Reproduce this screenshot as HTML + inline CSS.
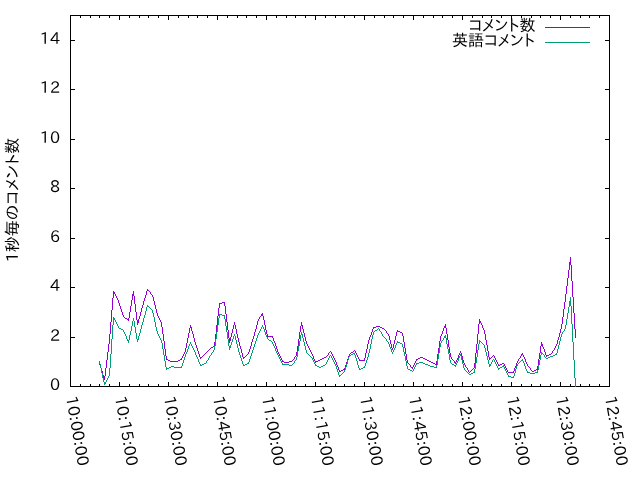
<!DOCTYPE html>
<html><head><meta charset="utf-8"><style>
html,body{margin:0;padding:0;background:#fff;width:640px;height:480px;overflow:hidden}
svg{display:block;will-change:transform}
text{font-family:"IPAPGothic","Liberation Sans","Noto Sans CJK JP",sans-serif;font-size:16px;fill:#000}
</style></head><body>
<svg width="640" height="480" viewBox="0 0 640 480">
<rect width="640" height="480" fill="#fff"/>
<path d="M70.5,15.5H609.5V386.5H70.5Z" fill="none" stroke="#000" stroke-width="1"/>
<path d="M70,386.5h5M610,386.5h-5M70,337.5h5M610,337.5h-5M70,287.5h5M610,287.5h-5M70,238.5h5M610,238.5h-5M70,188.5h5M610,188.5h-5M70,139.5h5M610,139.5h-5M70,89.5h5M610,89.5h-5M70,40.5h5M610,40.5h-5M70.5,387v-5M70.5,15v5M80.5,387v-3M80.5,15v3M90.5,387v-3M90.5,15v3M99.5,387v-3M99.5,15v3M109.5,387v-3M109.5,15v3M119.5,387v-5M119.5,15v5M129.5,387v-3M129.5,15v3M139.5,387v-3M139.5,15v3M148.5,387v-3M148.5,15v3M158.5,387v-3M158.5,15v3M168.5,387v-5M168.5,15v5M178.5,387v-3M178.5,15v3M188.5,387v-3M188.5,15v3M197.5,387v-3M197.5,15v3M207.5,387v-3M207.5,15v3M217.5,387v-5M217.5,15v5M227.5,387v-3M227.5,15v3M237.5,387v-3M237.5,15v3M246.5,387v-3M246.5,15v3M256.5,387v-3M256.5,15v3M266.5,387v-5M266.5,15v5M276.5,387v-3M276.5,15v3M286.5,387v-3M286.5,15v3M295.5,387v-3M295.5,15v3M305.5,387v-3M305.5,15v3M315.5,387v-5M315.5,15v5M325.5,387v-3M325.5,15v3M335.5,387v-3M335.5,15v3M344.5,387v-3M344.5,15v3M354.5,387v-3M354.5,15v3M364.5,387v-5M364.5,15v5M374.5,387v-3M374.5,15v3M384.5,387v-3M384.5,15v3M393.5,387v-3M393.5,15v3M403.5,387v-3M403.5,15v3M413.5,387v-5M413.5,15v5M423.5,387v-3M423.5,15v3M433.5,387v-3M433.5,15v3M442.5,387v-3M442.5,15v3M452.5,387v-3M452.5,15v3M462.5,387v-5M462.5,15v5M472.5,387v-3M472.5,15v3M482.5,387v-3M482.5,15v3M491.5,387v-3M491.5,15v3M501.5,387v-3M501.5,15v3M511.5,387v-5M511.5,15v5M521.5,387v-3M521.5,15v3M531.5,387v-3M531.5,15v3M540.5,387v-3M540.5,15v3M550.5,387v-3M550.5,15v3M560.5,387v-5M560.5,15v5M570.5,387v-3M570.5,15v3M580.5,387v-3M580.5,15v3M589.5,387v-3M589.5,15v3M599.5,387v-3M599.5,15v3M609.5,387v-5M609.5,15v5" fill="none" stroke="#000" stroke-width="1"/>
<g>
<text x="60" y="390.0" text-anchor="end">0</text><text x="60" y="341.0" text-anchor="end">2</text><text x="60" y="291.0" text-anchor="end">4</text><text x="60" y="242.0" text-anchor="end">6</text><text x="60" y="192.0" text-anchor="end">8</text><text x="60" y="143.0" text-anchor="end">10</text><text x="60" y="93.0" text-anchor="end">12</text><text x="60" y="44.0" text-anchor="end">14</text>
</g>
<g>
<text transform="translate(65.8,397) rotate(80)">10:00:00</text><text transform="translate(114.8,397) rotate(80)">10:15:00</text><text transform="translate(163.8,397) rotate(80)">10:30:00</text><text transform="translate(212.8,397) rotate(80)">10:45:00</text><text transform="translate(261.8,397) rotate(80)">11:00:00</text><text transform="translate(310.8,397) rotate(80)">11:15:00</text><text transform="translate(359.8,397) rotate(80)">11:30:00</text><text transform="translate(408.8,397) rotate(80)">11:45:00</text><text transform="translate(457.8,397) rotate(80)">12:00:00</text><text transform="translate(506.8,397) rotate(80)">12:15:00</text><text transform="translate(555.8,397) rotate(80)">12:30:00</text><text transform="translate(604.8,397) rotate(80)">12:45:00</text>
</g>
<text transform="translate(18,200) rotate(-90)" text-anchor="middle">1秒毎のコメント数</text>
<text x="535.5" y="31" text-anchor="end">コメント数</text>
<path d="M545,27.5H590" stroke="#9400d3" stroke-width="1"/>
<text x="535" y="46" text-anchor="end">英語コメント</text>
<path d="M545,42.5H590" stroke="#009e73" stroke-width="1"/>
<path d="M570 257h1v1h-1zM570 258h1v1h-1zM570 259h1v1h-1zM570 260h1v1h-1zM570 261h1v1h-1zM569 262h2v1h-2zM569 263h2v1h-2zM569 264h2v1h-2zM569 265h1v1h-1zM571 265h1v1h-1zM569 266h1v1h-1zM571 266h1v1h-1zM569 267h1v1h-1zM571 267h1v1h-1zM569 268h1v1h-1zM571 268h1v1h-1zM569 269h1v1h-1zM571 269h1v1h-1zM568 270h1v1h-1zM571 270h1v1h-1zM568 271h1v1h-1zM571 271h1v1h-1zM568 272h1v1h-1zM571 272h1v1h-1zM568 273h1v1h-1zM571 273h1v1h-1zM568 274h1v1h-1zM571 274h1v1h-1zM568 275h1v1h-1zM571 275h1v1h-1zM568 276h1v1h-1zM571 276h1v1h-1zM568 277h1v1h-1zM571 277h1v1h-1zM567 278h1v1h-1zM571 278h1v1h-1zM567 279h1v1h-1zM571 279h1v1h-1zM567 280h1v1h-1zM571 280h1v1h-1zM567 281h1v1h-1zM572 281h1v1h-1zM567 282h1v1h-1zM572 282h1v1h-1zM567 283h1v1h-1zM572 283h1v1h-1zM567 284h1v1h-1zM572 284h1v1h-1zM567 285h1v1h-1zM572 285h1v1h-1zM566 286h1v1h-1zM572 286h1v1h-1zM566 287h1v1h-1zM572 287h1v1h-1zM566 288h1v1h-1zM572 288h1v1h-1zM147 289h1v1h-1zM566 289h1v1h-1zM572 289h1v1h-1zM147 290h2v1h-2zM566 290h1v1h-1zM572 290h1v1h-1zM113 291h1v1h-1zM133 291h1v1h-1zM146 291h1v1h-1zM149 291h1v1h-1zM566 291h1v1h-1zM572 291h1v1h-1zM113 292h2v1h-2zM133 292h1v1h-1zM146 292h1v1h-1zM150 292h1v1h-1zM566 292h1v1h-1zM572 292h1v1h-1zM113 293h2v1h-2zM133 293h1v1h-1zM146 293h1v1h-1zM150 293h1v1h-1zM566 293h1v1h-1zM572 293h1v1h-1zM113 294h1v1h-1zM115 294h1v1h-1zM132 294h2v1h-2zM146 294h1v1h-1zM151 294h1v1h-1zM565 294h1v1h-1zM572 294h1v1h-1zM113 295h1v1h-1zM115 295h1v1h-1zM132 295h2v1h-2zM145 295h1v1h-1zM152 295h1v1h-1zM565 295h1v1h-1zM572 295h1v1h-1zM113 296h1v1h-1zM116 296h1v1h-1zM132 296h1v1h-1zM134 296h1v1h-1zM145 296h1v1h-1zM152 296h1v1h-1zM565 296h1v1h-1zM572 296h1v1h-1zM113 297h1v1h-1zM116 297h1v1h-1zM132 297h1v1h-1zM134 297h1v1h-1zM145 297h1v1h-1zM153 297h1v1h-1zM565 297h1v1h-1zM573 297h1v1h-1zM112 298h1v1h-1zM117 298h1v1h-1zM132 298h1v1h-1zM134 298h1v1h-1zM144 298h1v1h-1zM153 298h1v1h-1zM565 298h1v1h-1zM573 298h1v1h-1zM112 299h1v1h-1zM117 299h1v1h-1zM132 299h1v1h-1zM134 299h1v1h-1zM144 299h1v1h-1zM153 299h1v1h-1zM565 299h1v1h-1zM573 299h1v1h-1zM112 300h1v1h-1zM118 300h1v1h-1zM131 300h1v1h-1zM134 300h1v1h-1zM144 300h1v1h-1zM153 300h1v1h-1zM565 300h1v1h-1zM573 300h1v1h-1zM112 301h1v1h-1zM118 301h1v1h-1zM131 301h1v1h-1zM134 301h1v1h-1zM143 301h1v1h-1zM154 301h1v1h-1zM565 301h1v1h-1zM573 301h1v1h-1zM112 302h1v1h-1zM118 302h1v1h-1zM131 302h1v1h-1zM134 302h1v1h-1zM143 302h1v1h-1zM154 302h1v1h-1zM222 302h3v1h-3zM564 302h1v1h-1zM573 302h1v1h-1zM112 303h1v1h-1zM119 303h1v1h-1zM131 303h1v1h-1zM134 303h1v1h-1zM143 303h1v1h-1zM154 303h1v1h-1zM219 303h3v1h-3zM224 303h1v1h-1zM564 303h1v1h-1zM573 303h1v1h-1zM112 304h1v1h-1zM119 304h1v1h-1zM131 304h1v1h-1zM135 304h1v1h-1zM143 304h1v1h-1zM154 304h1v1h-1zM219 304h1v1h-1zM224 304h1v1h-1zM564 304h1v1h-1zM573 304h1v1h-1zM112 305h1v1h-1zM119 305h1v1h-1zM131 305h1v1h-1zM135 305h1v1h-1zM142 305h1v1h-1zM155 305h1v1h-1zM219 305h1v1h-1zM224 305h1v1h-1zM564 305h1v1h-1zM573 305h1v1h-1zM112 306h1v1h-1zM120 306h1v1h-1zM130 306h1v1h-1zM135 306h1v1h-1zM142 306h1v1h-1zM155 306h1v1h-1zM219 306h1v1h-1zM225 306h1v1h-1zM564 306h1v1h-1zM573 306h1v1h-1zM112 307h1v1h-1zM120 307h1v1h-1zM130 307h1v1h-1zM135 307h1v1h-1zM142 307h1v1h-1zM155 307h1v1h-1zM219 307h1v1h-1zM225 307h1v1h-1zM564 307h1v1h-1zM573 307h1v1h-1zM112 308h1v1h-1zM120 308h1v1h-1zM130 308h1v1h-1zM135 308h1v1h-1zM141 308h1v1h-1zM155 308h1v1h-1zM218 308h1v1h-1zM225 308h1v1h-1zM564 308h1v1h-1zM573 308h1v1h-1zM112 309h1v1h-1zM121 309h1v1h-1zM130 309h1v1h-1zM135 309h1v1h-1zM141 309h1v1h-1zM156 309h1v1h-1zM218 309h1v1h-1zM225 309h1v1h-1zM563 309h1v1h-1zM573 309h1v1h-1zM111 310h1v1h-1zM121 310h1v1h-1zM130 310h1v1h-1zM135 310h1v1h-1zM141 310h1v1h-1zM156 310h1v1h-1zM218 310h1v1h-1zM225 310h1v1h-1zM563 310h1v1h-1zM573 310h1v1h-1zM111 311h1v1h-1zM121 311h1v1h-1zM130 311h1v1h-1zM135 311h1v1h-1zM141 311h1v1h-1zM156 311h1v1h-1zM218 311h1v1h-1zM225 311h1v1h-1zM563 311h1v1h-1zM573 311h1v1h-1zM111 312h1v1h-1zM122 312h1v1h-1zM129 312h1v1h-1zM136 312h1v1h-1zM140 312h1v1h-1zM156 312h1v1h-1zM218 312h1v1h-1zM225 312h1v1h-1zM563 312h1v1h-1zM573 312h1v1h-1zM111 313h1v1h-1zM122 313h1v1h-1zM129 313h1v1h-1zM136 313h1v1h-1zM140 313h1v1h-1zM157 313h1v1h-1zM218 313h1v1h-1zM225 313h1v1h-1zM262 313h1v1h-1zM563 313h1v1h-1zM574 313h1v1h-1zM111 314h1v1h-1zM122 314h1v1h-1zM129 314h1v1h-1zM136 314h1v1h-1zM140 314h1v1h-1zM157 314h1v1h-1zM218 314h1v1h-1zM226 314h1v1h-1zM261 314h2v1h-2zM563 314h1v1h-1zM574 314h1v1h-1zM111 315h1v1h-1zM123 315h1v1h-1zM129 315h1v1h-1zM136 315h1v1h-1zM140 315h1v1h-1zM157 315h1v1h-1zM218 315h1v1h-1zM226 315h1v1h-1zM261 315h2v1h-2zM563 315h1v1h-1zM574 315h1v1h-1zM111 316h1v1h-1zM123 316h1v1h-1zM129 316h1v1h-1zM136 316h1v1h-1zM139 316h1v1h-1zM158 316h1v1h-1zM217 316h1v1h-1zM226 316h1v1h-1zM260 316h1v1h-1zM263 316h1v1h-1zM563 316h1v1h-1zM574 316h1v1h-1zM111 317h1v1h-1zM124 317h1v1h-1zM129 317h1v1h-1zM136 317h1v1h-1zM139 317h1v1h-1zM158 317h1v1h-1zM217 317h1v1h-1zM226 317h1v1h-1zM259 317h1v1h-1zM263 317h1v1h-1zM562 317h1v1h-1zM574 317h1v1h-1zM111 318h1v1h-1zM125 318h2v1h-2zM128 318h1v1h-1zM136 318h1v1h-1zM139 318h1v1h-1zM159 318h1v1h-1zM217 318h1v1h-1zM226 318h1v1h-1zM259 318h1v1h-1zM263 318h1v1h-1zM562 318h1v1h-1zM574 318h1v1h-1zM111 319h1v1h-1zM127 319h2v1h-2zM136 319h1v1h-1zM138 319h1v1h-1zM159 319h1v1h-1zM217 319h1v1h-1zM226 319h1v1h-1zM258 319h1v1h-1zM263 319h1v1h-1zM479 319h1v1h-1zM562 319h1v1h-1zM574 319h1v1h-1zM111 320h1v1h-1zM128 320h1v1h-1zM137 320h2v1h-2zM160 320h1v1h-1zM217 320h1v1h-1zM226 320h1v1h-1zM258 320h1v1h-1zM264 320h1v1h-1zM479 320h1v1h-1zM562 320h1v1h-1zM574 320h1v1h-1zM111 321h1v1h-1zM137 321h2v1h-2zM160 321h1v1h-1zM217 321h1v1h-1zM226 321h1v1h-1zM257 321h1v1h-1zM264 321h1v1h-1zM479 321h2v1h-2zM562 321h1v1h-1zM574 321h1v1h-1zM110 322h1v1h-1zM137 322h2v1h-2zM161 322h1v1h-1zM217 322h1v1h-1zM227 322h1v1h-1zM234 322h1v1h-1zM257 322h1v1h-1zM264 322h1v1h-1zM301 322h1v1h-1zM479 322h2v1h-2zM562 322h1v1h-1zM574 322h1v1h-1zM110 323h1v1h-1zM137 323h1v1h-1zM161 323h1v1h-1zM217 323h1v1h-1zM227 323h1v1h-1zM234 323h1v1h-1zM257 323h1v1h-1zM264 323h1v1h-1zM301 323h1v1h-1zM479 323h1v1h-1zM481 323h1v1h-1zM562 323h1v1h-1zM574 323h1v1h-1zM110 324h1v1h-1zM137 324h1v1h-1zM161 324h1v1h-1zM217 324h1v1h-1zM227 324h1v1h-1zM234 324h1v1h-1zM257 324h1v1h-1zM264 324h1v1h-1zM301 324h1v1h-1zM445 324h1v1h-1zM478 324h1v1h-1zM481 324h1v1h-1zM561 324h1v1h-1zM574 324h1v1h-1zM110 325h1v1h-1zM161 325h1v1h-1zM190 325h1v1h-1zM216 325h1v1h-1zM227 325h1v1h-1zM233 325h1v1h-1zM235 325h1v1h-1zM256 325h1v1h-1zM265 325h1v1h-1zM301 325h2v1h-2zM445 325h1v1h-1zM478 325h1v1h-1zM482 325h1v1h-1zM561 325h1v1h-1zM574 325h1v1h-1zM110 326h1v1h-1zM161 326h1v1h-1zM190 326h1v1h-1zM216 326h1v1h-1zM227 326h1v1h-1zM233 326h1v1h-1zM235 326h1v1h-1zM256 326h1v1h-1zM265 326h1v1h-1zM300 326h1v1h-1zM302 326h1v1h-1zM376 326h4v1h-4zM444 326h2v1h-2zM478 326h1v1h-1zM482 326h1v1h-1zM561 326h1v1h-1zM574 326h1v1h-1zM110 327h1v1h-1zM162 327h1v1h-1zM190 327h2v1h-2zM216 327h1v1h-1zM227 327h1v1h-1zM233 327h1v1h-1zM235 327h1v1h-1zM256 327h1v1h-1zM265 327h1v1h-1zM300 327h1v1h-1zM302 327h1v1h-1zM373 327h3v1h-3zM380 327h2v1h-2zM444 327h2v1h-2zM478 327h1v1h-1zM482 327h1v1h-1zM561 327h1v1h-1zM574 327h1v1h-1zM110 328h1v1h-1zM162 328h1v1h-1zM189 328h1v1h-1zM191 328h1v1h-1zM216 328h1v1h-1zM227 328h1v1h-1zM233 328h1v1h-1zM235 328h1v1h-1zM256 328h1v1h-1zM265 328h1v1h-1zM300 328h1v1h-1zM302 328h1v1h-1zM373 328h1v1h-1zM382 328h2v1h-2zM443 328h1v1h-1zM446 328h1v1h-1zM478 328h1v1h-1zM483 328h1v1h-1zM561 328h1v1h-1zM574 328h1v1h-1zM110 329h1v1h-1zM162 329h1v1h-1zM189 329h1v1h-1zM191 329h1v1h-1zM216 329h1v1h-1zM227 329h1v1h-1zM232 329h1v1h-1zM236 329h1v1h-1zM255 329h1v1h-1zM265 329h1v1h-1zM300 329h1v1h-1zM303 329h1v1h-1zM372 329h1v1h-1zM384 329h1v1h-1zM443 329h1v1h-1zM446 329h1v1h-1zM478 329h1v1h-1zM483 329h1v1h-1zM560 329h1v1h-1zM575 329h1v1h-1zM110 330h1v1h-1zM162 330h1v1h-1zM189 330h1v1h-1zM191 330h1v1h-1zM216 330h1v1h-1zM228 330h1v1h-1zM232 330h1v1h-1zM236 330h1v1h-1zM255 330h1v1h-1zM266 330h1v1h-1zM300 330h1v1h-1zM303 330h1v1h-1zM372 330h1v1h-1zM385 330h1v1h-1zM397 330h1v1h-1zM443 330h1v1h-1zM446 330h1v1h-1zM478 330h1v1h-1zM484 330h1v1h-1zM560 330h1v1h-1zM575 330h1v1h-1zM110 331h1v1h-1zM162 331h1v1h-1zM189 331h1v1h-1zM192 331h1v1h-1zM216 331h1v1h-1zM228 331h1v1h-1zM232 331h1v1h-1zM236 331h1v1h-1zM255 331h1v1h-1zM266 331h1v1h-1zM300 331h1v1h-1zM303 331h1v1h-1zM372 331h1v1h-1zM386 331h1v1h-1zM397 331h3v1h-3zM442 331h1v1h-1zM446 331h1v1h-1zM478 331h1v1h-1zM484 331h1v1h-1zM560 331h1v1h-1zM575 331h1v1h-1zM110 332h1v1h-1zM162 332h1v1h-1zM189 332h1v1h-1zM192 332h1v1h-1zM216 332h1v1h-1zM228 332h1v1h-1zM232 332h1v1h-1zM236 332h1v1h-1zM254 332h1v1h-1zM266 332h1v1h-1zM299 332h1v1h-1zM303 332h1v1h-1zM371 332h1v1h-1zM386 332h1v1h-1zM396 332h1v1h-1zM400 332h2v1h-2zM442 332h1v1h-1zM446 332h1v1h-1zM478 332h1v1h-1zM484 332h1v1h-1zM560 332h1v1h-1zM575 332h1v1h-1zM110 333h1v1h-1zM162 333h1v1h-1zM188 333h1v1h-1zM192 333h1v1h-1zM216 333h1v1h-1zM228 333h1v1h-1zM231 333h1v1h-1zM236 333h1v1h-1zM254 333h1v1h-1zM266 333h1v1h-1zM299 333h1v1h-1zM304 333h1v1h-1zM371 333h1v1h-1zM387 333h1v1h-1zM396 333h1v1h-1zM402 333h1v1h-1zM442 333h1v1h-1zM446 333h1v1h-1zM478 333h1v1h-1zM484 333h1v1h-1zM559 333h1v1h-1zM575 333h1v1h-1zM109 334h1v1h-1zM163 334h1v1h-1zM188 334h1v1h-1zM193 334h1v1h-1zM215 334h1v1h-1zM228 334h1v1h-1zM231 334h1v1h-1zM237 334h1v1h-1zM254 334h1v1h-1zM267 334h1v1h-1zM299 334h1v1h-1zM304 334h1v1h-1zM371 334h1v1h-1zM388 334h1v1h-1zM396 334h1v1h-1zM402 334h1v1h-1zM441 334h1v1h-1zM447 334h1v1h-1zM477 334h1v1h-1zM485 334h1v1h-1zM559 334h1v1h-1zM575 334h1v1h-1zM109 335h1v1h-1zM163 335h1v1h-1zM188 335h1v1h-1zM193 335h1v1h-1zM215 335h1v1h-1zM228 335h1v1h-1zM231 335h1v1h-1zM237 335h1v1h-1zM254 335h1v1h-1zM267 335h1v1h-1zM299 335h1v1h-1zM304 335h1v1h-1zM370 335h1v1h-1zM388 335h1v1h-1zM396 335h1v1h-1zM402 335h1v1h-1zM441 335h1v1h-1zM447 335h1v1h-1zM477 335h1v1h-1zM485 335h1v1h-1zM559 335h1v1h-1zM575 335h1v1h-1zM109 336h1v1h-1zM163 336h1v1h-1zM188 336h1v1h-1zM193 336h1v1h-1zM215 336h1v1h-1zM228 336h1v1h-1zM231 336h1v1h-1zM237 336h1v1h-1zM253 336h1v1h-1zM267 336h6v1h-6zM299 336h1v1h-1zM304 336h1v1h-1zM370 336h1v1h-1zM389 336h1v1h-1zM395 336h1v1h-1zM403 336h1v1h-1zM440 336h1v1h-1zM447 336h1v1h-1zM477 336h1v1h-1zM485 336h1v1h-1zM559 336h1v1h-1zM575 336h1v1h-1zM109 337h1v1h-1zM163 337h1v1h-1zM188 337h1v1h-1zM193 337h1v1h-1zM215 337h1v1h-1zM228 337h1v1h-1zM230 337h1v1h-1zM237 337h1v1h-1zM253 337h1v1h-1zM272 337h1v1h-1zM299 337h1v1h-1zM305 337h1v1h-1zM369 337h1v1h-1zM389 337h1v1h-1zM395 337h1v1h-1zM403 337h1v1h-1zM440 337h1v1h-1zM447 337h1v1h-1zM477 337h1v1h-1zM485 337h1v1h-1zM558 337h1v1h-1zM575 337h1v1h-1zM109 338h1v1h-1zM163 338h1v1h-1zM187 338h1v1h-1zM194 338h1v1h-1zM215 338h1v1h-1zM229 338h2v1h-2zM238 338h1v1h-1zM253 338h1v1h-1zM273 338h1v1h-1zM299 338h1v1h-1zM305 338h1v1h-1zM369 338h1v1h-1zM389 338h1v1h-1zM395 338h1v1h-1zM403 338h1v1h-1zM440 338h1v1h-1zM447 338h1v1h-1zM477 338h1v1h-1zM485 338h1v1h-1zM558 338h1v1h-1zM109 339h1v1h-1zM163 339h1v1h-1zM187 339h1v1h-1zM194 339h1v1h-1zM215 339h1v1h-1zM229 339h2v1h-2zM238 339h1v1h-1zM252 339h1v1h-1zM273 339h1v1h-1zM298 339h1v1h-1zM305 339h1v1h-1zM369 339h1v1h-1zM389 339h1v1h-1zM395 339h1v1h-1zM403 339h1v1h-1zM440 339h1v1h-1zM447 339h1v1h-1zM477 339h1v1h-1zM485 339h1v1h-1zM558 339h1v1h-1zM109 340h1v1h-1zM163 340h1v1h-1zM187 340h1v1h-1zM194 340h1v1h-1zM215 340h1v1h-1zM229 340h2v1h-2zM238 340h1v1h-1zM252 340h1v1h-1zM273 340h1v1h-1zM298 340h1v1h-1zM305 340h1v1h-1zM368 340h1v1h-1zM390 340h1v1h-1zM394 340h1v1h-1zM403 340h1v1h-1zM440 340h1v1h-1zM448 340h1v1h-1zM477 340h1v1h-1zM486 340h1v1h-1zM557 340h1v1h-1zM109 341h1v1h-1zM164 341h1v1h-1zM187 341h1v1h-1zM194 341h1v1h-1zM215 341h1v1h-1zM229 341h1v1h-1zM238 341h1v1h-1zM252 341h1v1h-1zM274 341h1v1h-1zM298 341h1v1h-1zM306 341h1v1h-1zM368 341h1v1h-1zM390 341h1v1h-1zM394 341h1v1h-1zM403 341h1v1h-1zM439 341h1v1h-1zM448 341h1v1h-1zM477 341h1v1h-1zM486 341h1v1h-1zM557 341h1v1h-1zM109 342h1v1h-1zM164 342h1v1h-1zM187 342h1v1h-1zM195 342h1v1h-1zM214 342h1v1h-1zM229 342h1v1h-1zM239 342h1v1h-1zM251 342h1v1h-1zM274 342h1v1h-1zM298 342h1v1h-1zM306 342h1v1h-1zM368 342h1v1h-1zM390 342h1v1h-1zM394 342h1v1h-1zM404 342h1v1h-1zM439 342h1v1h-1zM448 342h1v1h-1zM477 342h1v1h-1zM486 342h1v1h-1zM541 342h1v1h-1zM557 342h1v1h-1zM109 343h1v1h-1zM164 343h1v1h-1zM186 343h1v1h-1zM195 343h1v1h-1zM214 343h1v1h-1zM239 343h1v1h-1zM251 343h1v1h-1zM275 343h1v1h-1zM298 343h1v1h-1zM306 343h1v1h-1zM368 343h1v1h-1zM390 343h1v1h-1zM394 343h1v1h-1zM404 343h1v1h-1zM439 343h1v1h-1zM448 343h1v1h-1zM477 343h1v1h-1zM486 343h1v1h-1zM541 343h1v1h-1zM557 343h1v1h-1zM108 344h1v1h-1zM164 344h1v1h-1zM186 344h1v1h-1zM195 344h1v1h-1zM214 344h1v1h-1zM239 344h1v1h-1zM251 344h1v1h-1zM275 344h1v1h-1zM298 344h1v1h-1zM307 344h1v1h-1zM367 344h1v1h-1zM391 344h1v1h-1zM393 344h1v1h-1zM404 344h1v1h-1zM439 344h1v1h-1zM448 344h1v1h-1zM476 344h1v1h-1zM486 344h1v1h-1zM541 344h2v1h-2zM556 344h1v1h-1zM108 345h1v1h-1zM164 345h1v1h-1zM186 345h1v1h-1zM196 345h1v1h-1zM214 345h1v1h-1zM239 345h1v1h-1zM251 345h1v1h-1zM275 345h1v1h-1zM298 345h1v1h-1zM307 345h1v1h-1zM367 345h1v1h-1zM391 345h1v1h-1zM393 345h1v1h-1zM404 345h1v1h-1zM439 345h1v1h-1zM448 345h1v1h-1zM476 345h1v1h-1zM487 345h1v1h-1zM541 345h2v1h-2zM556 345h1v1h-1zM108 346h1v1h-1zM164 346h1v1h-1zM186 346h1v1h-1zM196 346h1v1h-1zM213 346h2v1h-2zM240 346h1v1h-1zM250 346h1v1h-1zM276 346h1v1h-1zM297 346h1v1h-1zM308 346h1v1h-1zM367 346h1v1h-1zM391 346h1v1h-1zM393 346h1v1h-1zM404 346h1v1h-1zM439 346h1v1h-1zM448 346h1v1h-1zM476 346h1v1h-1zM487 346h1v1h-1zM540 346h1v1h-1zM542 346h1v1h-1zM555 346h1v1h-1zM108 347h1v1h-1zM164 347h1v1h-1zM186 347h1v1h-1zM196 347h1v1h-1zM211 347h2v1h-2zM240 347h1v1h-1zM250 347h1v1h-1zM276 347h1v1h-1zM297 347h1v1h-1zM308 347h1v1h-1zM367 347h1v1h-1zM391 347h1v1h-1zM393 347h1v1h-1zM404 347h1v1h-1zM439 347h1v1h-1zM449 347h1v1h-1zM476 347h1v1h-1zM487 347h1v1h-1zM540 347h1v1h-1zM543 347h1v1h-1zM555 347h1v1h-1zM108 348h1v1h-1zM164 348h1v1h-1zM185 348h1v1h-1zM197 348h1v1h-1zM210 348h1v1h-1zM240 348h1v1h-1zM250 348h1v1h-1zM276 348h1v1h-1zM297 348h1v1h-1zM309 348h1v1h-1zM367 348h1v1h-1zM392 348h1v1h-1zM405 348h1v1h-1zM438 348h1v1h-1zM449 348h1v1h-1zM476 348h1v1h-1zM487 348h1v1h-1zM540 348h1v1h-1zM543 348h1v1h-1zM554 348h1v1h-1zM108 349h1v1h-1zM165 349h1v1h-1zM185 349h1v1h-1zM197 349h1v1h-1zM209 349h1v1h-1zM241 349h1v1h-1zM249 349h1v1h-1zM277 349h1v1h-1zM297 349h1v1h-1zM309 349h1v1h-1zM366 349h1v1h-1zM392 349h1v1h-1zM405 349h1v1h-1zM438 349h1v1h-1zM449 349h1v1h-1zM476 349h1v1h-1zM487 349h1v1h-1zM540 349h1v1h-1zM544 349h1v1h-1zM554 349h1v1h-1zM108 350h1v1h-1zM165 350h1v1h-1zM185 350h1v1h-1zM197 350h1v1h-1zM208 350h1v1h-1zM241 350h1v1h-1zM249 350h1v1h-1zM277 350h1v1h-1zM297 350h1v1h-1zM310 350h1v1h-1zM354 350h1v1h-1zM366 350h1v1h-1zM405 350h1v1h-1zM438 350h1v1h-1zM449 350h1v1h-1zM476 350h1v1h-1zM487 350h1v1h-1zM540 350h1v1h-1zM544 350h1v1h-1zM553 350h1v1h-1zM108 351h1v1h-1zM165 351h1v1h-1zM185 351h1v1h-1zM198 351h1v1h-1zM207 351h1v1h-1zM241 351h1v1h-1zM249 351h1v1h-1zM277 351h1v1h-1zM297 351h1v1h-1zM310 351h1v1h-1zM330 351h1v1h-1zM353 351h1v1h-1zM355 351h1v1h-1zM366 351h1v1h-1zM405 351h1v1h-1zM438 351h1v1h-1zM449 351h1v1h-1zM460 351h1v1h-1zM476 351h1v1h-1zM488 351h1v1h-1zM540 351h1v1h-1zM544 351h1v1h-1zM552 351h1v1h-1zM107 352h1v1h-1zM165 352h1v1h-1zM184 352h1v1h-1zM198 352h1v1h-1zM206 352h1v1h-1zM241 352h1v1h-1zM248 352h1v1h-1zM278 352h1v1h-1zM296 352h1v1h-1zM311 352h1v1h-1zM329 352h1v1h-1zM331 352h1v1h-1zM351 352h2v1h-2zM355 352h1v1h-1zM366 352h1v1h-1zM405 352h1v1h-1zM438 352h1v1h-1zM449 352h1v1h-1zM460 352h1v1h-1zM476 352h1v1h-1zM488 352h1v1h-1zM540 352h1v1h-1zM545 352h1v1h-1zM552 352h1v1h-1zM107 353h1v1h-1zM165 353h1v1h-1zM184 353h1v1h-1zM198 353h1v1h-1zM205 353h1v1h-1zM242 353h1v1h-1zM248 353h1v1h-1zM278 353h1v1h-1zM296 353h1v1h-1zM311 353h1v1h-1zM328 353h1v1h-1zM331 353h1v1h-1zM350 353h1v1h-1zM356 353h1v1h-1zM365 353h1v1h-1zM405 353h1v1h-1zM438 353h1v1h-1zM450 353h1v1h-1zM459 353h1v1h-1zM461 353h1v1h-1zM475 353h1v1h-1zM488 353h1v1h-1zM522 353h1v1h-1zM539 353h1v1h-1zM545 353h1v1h-1zM551 353h1v1h-1zM107 354h1v1h-1zM165 354h1v1h-1zM183 354h1v1h-1zM199 354h1v1h-1zM204 354h1v1h-1zM242 354h1v1h-1zM247 354h1v1h-1zM279 354h1v1h-1zM296 354h1v1h-1zM312 354h1v1h-1zM328 354h1v1h-1zM332 354h1v1h-1zM349 354h1v1h-1zM356 354h1v1h-1zM365 354h1v1h-1zM406 354h1v1h-1zM437 354h1v1h-1zM450 354h1v1h-1zM459 354h1v1h-1zM461 354h1v1h-1zM475 354h1v1h-1zM488 354h1v1h-1zM521 354h2v1h-2zM539 354h1v1h-1zM545 354h1v1h-1zM549 354h2v1h-2zM107 355h1v1h-1zM165 355h1v1h-1zM183 355h1v1h-1zM199 355h1v1h-1zM203 355h1v1h-1zM242 355h1v1h-1zM246 355h1v1h-1zM279 355h1v1h-1zM296 355h1v1h-1zM312 355h1v1h-1zM327 355h1v1h-1zM332 355h1v1h-1zM349 355h1v1h-1zM357 355h1v1h-1zM365 355h1v1h-1zM406 355h1v1h-1zM437 355h1v1h-1zM450 355h1v1h-1zM458 355h1v1h-1zM461 355h1v1h-1zM475 355h1v1h-1zM488 355h1v1h-1zM493 355h1v1h-1zM521 355h1v1h-1zM523 355h1v1h-1zM539 355h1v1h-1zM546 355h3v1h-3zM107 356h1v1h-1zM166 356h1v1h-1zM182 356h1v1h-1zM199 356h1v1h-1zM202 356h1v1h-1zM242 356h1v1h-1zM245 356h1v1h-1zM280 356h1v1h-1zM295 356h1v1h-1zM313 356h1v1h-1zM326 356h1v1h-1zM333 356h1v1h-1zM348 356h1v1h-1zM357 356h1v1h-1zM365 356h1v1h-1zM406 356h1v1h-1zM437 356h1v1h-1zM450 356h1v1h-1zM458 356h1v1h-1zM462 356h1v1h-1zM475 356h1v1h-1zM488 356h1v1h-1zM492 356h1v1h-1zM494 356h1v1h-1zM520 356h1v1h-1zM523 356h1v1h-1zM539 356h1v1h-1zM546 356h1v1h-1zM107 357h1v1h-1zM166 357h1v1h-1zM182 357h1v1h-1zM200 357h2v1h-2zM243 357h2v1h-2zM280 357h1v1h-1zM294 357h1v1h-1zM313 357h1v1h-1zM324 357h2v1h-2zM333 357h1v1h-1zM348 357h1v1h-1zM358 357h1v1h-1zM365 357h1v1h-1zM406 357h1v1h-1zM420 357h3v1h-3zM437 357h1v1h-1zM451 357h1v1h-1zM458 357h1v1h-1zM462 357h1v1h-1zM475 357h1v1h-1zM489 357h1v1h-1zM491 357h1v1h-1zM494 357h1v1h-1zM520 357h1v1h-1zM524 357h1v1h-1zM539 357h1v1h-1zM107 358h1v1h-1zM166 358h1v1h-1zM181 358h1v1h-1zM200 358h1v1h-1zM243 358h1v1h-1zM281 358h1v1h-1zM294 358h1v1h-1zM313 358h1v1h-1zM322 358h2v1h-2zM334 358h1v1h-1zM348 358h1v1h-1zM358 358h1v1h-1zM364 358h1v1h-1zM406 358h1v1h-1zM418 358h2v1h-2zM423 358h2v1h-2zM437 358h1v1h-1zM451 358h1v1h-1zM457 358h1v1h-1zM462 358h1v1h-1zM475 358h1v1h-1zM489 358h2v1h-2zM495 358h1v1h-1zM519 358h1v1h-1zM524 358h1v1h-1zM539 358h1v1h-1zM107 359h1v1h-1zM166 359h2v1h-2zM180 359h2v1h-2zM281 359h1v1h-1zM293 359h1v1h-1zM314 359h1v1h-1zM320 359h2v1h-2zM334 359h1v1h-1zM347 359h1v1h-1zM359 359h1v1h-1zM364 359h1v1h-1zM406 359h1v1h-1zM416 359h2v1h-2zM425 359h2v1h-2zM437 359h1v1h-1zM452 359h1v1h-1zM457 359h1v1h-1zM462 359h1v1h-1zM475 359h1v1h-1zM489 359h1v1h-1zM495 359h1v1h-1zM518 359h1v1h-1zM525 359h1v1h-1zM538 359h1v1h-1zM106 360h1v1h-1zM168 360h2v1h-2zM178 360h2v1h-2zM282 360h1v1h-1zM292 360h1v1h-1zM314 360h1v1h-1zM318 360h2v1h-2zM335 360h1v1h-1zM347 360h1v1h-1zM359 360h6v1h-6zM407 360h1v1h-1zM416 360h1v1h-1zM427 360h2v1h-2zM437 360h1v1h-1zM453 360h1v1h-1zM456 360h1v1h-1zM463 360h1v1h-1zM475 360h1v1h-1zM496 360h1v1h-1zM518 360h1v1h-1zM525 360h1v1h-1zM538 360h1v1h-1zM106 361h1v1h-1zM170 361h8v1h-8zM282 361h2v1h-2zM289 361h3v1h-3zM315 361h3v1h-3zM335 361h1v1h-1zM347 361h1v1h-1zM407 361h1v1h-1zM415 361h1v1h-1zM429 361h2v1h-2zM436 361h1v1h-1zM454 361h1v1h-1zM456 361h1v1h-1zM463 361h1v1h-1zM475 361h1v1h-1zM496 361h1v1h-1zM517 361h1v1h-1zM525 361h1v1h-1zM538 361h1v1h-1zM106 362h1v1h-1zM284 362h5v1h-5zM315 362h1v1h-1zM336 362h1v1h-1zM346 362h1v1h-1zM407 362h1v1h-1zM415 362h1v1h-1zM431 362h2v1h-2zM436 362h1v1h-1zM454 362h2v1h-2zM463 362h1v1h-1zM475 362h1v1h-1zM497 362h1v1h-1zM517 362h1v1h-1zM526 362h1v1h-1zM538 362h1v1h-1zM99 363h1v1h-1zM106 363h1v1h-1zM336 363h1v1h-1zM346 363h1v1h-1zM408 363h1v1h-1zM414 363h1v1h-1zM433 363h2v1h-2zM436 363h1v1h-1zM455 363h1v1h-1zM464 363h1v1h-1zM474 363h1v1h-1zM497 363h1v1h-1zM502 363h2v1h-2zM516 363h1v1h-1zM526 363h1v1h-1zM538 363h1v1h-1zM99 364h1v1h-1zM106 364h1v1h-1zM336 364h1v1h-1zM346 364h1v1h-1zM409 364h1v1h-1zM414 364h1v1h-1zM435 364h2v1h-2zM464 364h1v1h-1zM474 364h1v1h-1zM498 364h1v1h-1zM500 364h2v1h-2zM504 364h1v1h-1zM516 364h1v1h-1zM527 364h1v1h-1zM538 364h1v1h-1zM100 365h1v1h-1zM106 365h1v1h-1zM337 365h1v1h-1zM345 365h1v1h-1zM410 365h1v1h-1zM413 365h1v1h-1zM465 365h1v1h-1zM474 365h1v1h-1zM498 365h2v1h-2zM504 365h1v1h-1zM516 365h1v1h-1zM527 365h1v1h-1zM538 365h1v1h-1zM100 366h1v1h-1zM106 366h1v1h-1zM337 366h1v1h-1zM345 366h1v1h-1zM410 366h1v1h-1zM413 366h1v1h-1zM465 366h1v1h-1zM474 366h1v1h-1zM505 366h1v1h-1zM515 366h1v1h-1zM528 366h1v1h-1zM537 366h1v1h-1zM100 367h1v1h-1zM106 367h1v1h-1zM338 367h1v1h-1zM345 367h1v1h-1zM411 367h2v1h-2zM466 367h1v1h-1zM474 367h1v1h-1zM505 367h1v1h-1zM515 367h1v1h-1zM529 367h1v1h-1zM537 367h1v1h-1zM101 368h1v1h-1zM105 368h1v1h-1zM338 368h1v1h-1zM344 368h1v1h-1zM412 368h1v1h-1zM467 368h1v1h-1zM473 368h1v1h-1zM506 368h1v1h-1zM514 368h1v1h-1zM530 368h1v1h-1zM537 368h1v1h-1zM101 369h1v1h-1zM105 369h1v1h-1zM338 369h1v1h-1zM343 369h2v1h-2zM467 369h1v1h-1zM472 369h1v1h-1zM506 369h1v1h-1zM514 369h1v1h-1zM530 369h1v1h-1zM536 369h2v1h-2zM101 370h1v1h-1zM105 370h1v1h-1zM339 370h1v1h-1zM341 370h2v1h-2zM468 370h1v1h-1zM471 370h1v1h-1zM507 370h1v1h-1zM514 370h1v1h-1zM531 370h1v1h-1zM534 370h2v1h-2zM102 371h1v1h-1zM105 371h1v1h-1zM339 371h2v1h-2zM468 371h1v1h-1zM470 371h1v1h-1zM507 371h1v1h-1zM513 371h1v1h-1zM532 371h2v1h-2zM102 372h1v1h-1zM105 372h1v1h-1zM469 372h1v1h-1zM508 372h6v1h-6zM102 373h1v1h-1zM105 373h1v1h-1zM102 374h1v1h-1zM105 374h1v1h-1zM103 375h1v1h-1zM105 375h1v1h-1zM103 376h2v1h-2zM103 377h2v1h-2zM104 378h1v1h-1zM104 379h1v1h-1z" fill="#9400d3" shape-rendering="crispEdges"/>
<path d="M570 297h1v1h-1zM570 298h1v1h-1zM570 299h1v1h-1zM570 300h1v1h-1zM569 301h2v1h-2zM569 302h2v1h-2zM569 303h2v1h-2zM569 304h2v1h-2zM147 305h1v1h-1zM569 305h2v1h-2zM147 306h2v1h-2zM569 306h1v1h-1zM571 306h1v1h-1zM146 307h1v1h-1zM149 307h1v1h-1zM568 307h1v1h-1zM571 307h1v1h-1zM146 308h1v1h-1zM150 308h1v1h-1zM568 308h1v1h-1zM571 308h1v1h-1zM146 309h1v1h-1zM151 309h1v1h-1zM568 309h1v1h-1zM571 309h1v1h-1zM146 310h1v1h-1zM152 310h1v1h-1zM568 310h1v1h-1zM571 310h1v1h-1zM145 311h1v1h-1zM152 311h1v1h-1zM568 311h1v1h-1zM571 311h1v1h-1zM145 312h1v1h-1zM152 312h1v1h-1zM568 312h1v1h-1zM571 312h1v1h-1zM145 313h1v1h-1zM153 313h1v1h-1zM567 313h1v1h-1zM571 313h1v1h-1zM145 314h1v1h-1zM153 314h1v1h-1zM219 314h3v1h-3zM567 314h1v1h-1zM571 314h1v1h-1zM144 315h1v1h-1zM153 315h1v1h-1zM219 315h1v1h-1zM222 315h3v1h-3zM567 315h1v1h-1zM571 315h1v1h-1zM144 316h1v1h-1zM153 316h1v1h-1zM219 316h1v1h-1zM224 316h1v1h-1zM567 316h1v1h-1zM571 316h1v1h-1zM113 317h1v1h-1zM144 317h1v1h-1zM154 317h1v1h-1zM219 317h1v1h-1zM224 317h1v1h-1zM567 317h1v1h-1zM571 317h1v1h-1zM113 318h2v1h-2zM133 318h1v1h-1zM143 318h1v1h-1zM154 318h1v1h-1zM218 318h1v1h-1zM224 318h1v1h-1zM567 318h1v1h-1zM571 318h1v1h-1zM113 319h2v1h-2zM133 319h1v1h-1zM143 319h1v1h-1zM154 319h1v1h-1zM218 319h1v1h-1zM225 319h1v1h-1zM566 319h1v1h-1zM571 319h1v1h-1zM113 320h1v1h-1zM115 320h1v1h-1zM133 320h1v1h-1zM143 320h1v1h-1zM154 320h1v1h-1zM218 320h1v1h-1zM225 320h1v1h-1zM566 320h1v1h-1zM571 320h1v1h-1zM113 321h1v1h-1zM115 321h1v1h-1zM132 321h1v1h-1zM134 321h1v1h-1zM143 321h1v1h-1zM154 321h1v1h-1zM218 321h1v1h-1zM225 321h1v1h-1zM566 321h1v1h-1zM571 321h1v1h-1zM113 322h1v1h-1zM116 322h1v1h-1zM132 322h1v1h-1zM134 322h1v1h-1zM142 322h1v1h-1zM155 322h1v1h-1zM218 322h1v1h-1zM225 322h1v1h-1zM566 322h1v1h-1zM571 322h1v1h-1zM113 323h1v1h-1zM116 323h1v1h-1zM132 323h1v1h-1zM134 323h1v1h-1zM142 323h1v1h-1zM155 323h1v1h-1zM218 323h1v1h-1zM225 323h1v1h-1zM566 323h1v1h-1zM571 323h1v1h-1zM113 324h1v1h-1zM117 324h1v1h-1zM132 324h1v1h-1zM134 324h1v1h-1zM142 324h1v1h-1zM155 324h1v1h-1zM218 324h1v1h-1zM225 324h1v1h-1zM566 324h1v1h-1zM572 324h1v1h-1zM112 325h1v1h-1zM117 325h1v1h-1zM132 325h1v1h-1zM134 325h1v1h-1zM141 325h1v1h-1zM155 325h1v1h-1zM217 325h1v1h-1zM225 325h1v1h-1zM262 325h1v1h-1zM565 325h1v1h-1zM572 325h1v1h-1zM112 326h1v1h-1zM118 326h1v1h-1zM131 326h1v1h-1zM134 326h1v1h-1zM141 326h1v1h-1zM155 326h1v1h-1zM217 326h1v1h-1zM226 326h1v1h-1zM262 326h1v1h-1zM565 326h1v1h-1zM572 326h1v1h-1zM112 327h1v1h-1zM118 327h1v1h-1zM131 327h1v1h-1zM135 327h1v1h-1zM141 327h1v1h-1zM156 327h1v1h-1zM217 327h1v1h-1zM226 327h1v1h-1zM261 327h1v1h-1zM263 327h1v1h-1zM565 327h1v1h-1zM572 327h1v1h-1zM112 328h1v1h-1zM119 328h2v1h-2zM131 328h1v1h-1zM135 328h1v1h-1zM141 328h1v1h-1zM156 328h1v1h-1zM217 328h1v1h-1zM226 328h1v1h-1zM261 328h1v1h-1zM263 328h1v1h-1zM378 328h1v1h-1zM565 328h1v1h-1zM572 328h1v1h-1zM112 329h1v1h-1zM121 329h2v1h-2zM131 329h1v1h-1zM135 329h1v1h-1zM140 329h1v1h-1zM156 329h1v1h-1zM217 329h1v1h-1zM226 329h1v1h-1zM260 329h1v1h-1zM264 329h1v1h-1zM377 329h1v1h-1zM379 329h1v1h-1zM564 329h1v1h-1zM572 329h1v1h-1zM112 330h1v1h-1zM123 330h1v1h-1zM131 330h1v1h-1zM135 330h1v1h-1zM140 330h1v1h-1zM156 330h1v1h-1zM217 330h1v1h-1zM226 330h1v1h-1zM260 330h1v1h-1zM264 330h1v1h-1zM375 330h2v1h-2zM379 330h1v1h-1zM564 330h1v1h-1zM572 330h1v1h-1zM112 331h1v1h-1zM123 331h1v1h-1zM130 331h1v1h-1zM135 331h1v1h-1zM140 331h1v1h-1zM157 331h1v1h-1zM217 331h1v1h-1zM226 331h1v1h-1zM259 331h1v1h-1zM264 331h1v1h-1zM374 331h1v1h-1zM380 331h1v1h-1zM563 331h1v1h-1zM572 331h1v1h-1zM112 332h1v1h-1zM124 332h1v1h-1zM130 332h1v1h-1zM135 332h1v1h-1zM140 332h1v1h-1zM157 332h1v1h-1zM216 332h1v1h-1zM227 332h1v1h-1zM259 332h1v1h-1zM265 332h1v1h-1zM301 332h1v1h-1zM373 332h1v1h-1zM381 332h1v1h-1zM562 332h1v1h-1zM572 332h1v1h-1zM112 333h1v1h-1zM124 333h1v1h-1zM130 333h1v1h-1zM136 333h1v1h-1zM139 333h1v1h-1zM157 333h1v1h-1zM216 333h1v1h-1zM227 333h1v1h-1zM258 333h1v1h-1zM265 333h1v1h-1zM301 333h1v1h-1zM373 333h1v1h-1zM381 333h1v1h-1zM562 333h1v1h-1zM572 333h1v1h-1zM112 334h1v1h-1zM125 334h1v1h-1zM130 334h1v1h-1zM136 334h1v1h-1zM139 334h1v1h-1zM158 334h1v1h-1zM216 334h1v1h-1zM227 334h1v1h-1zM234 334h1v1h-1zM258 334h1v1h-1zM265 334h1v1h-1zM301 334h2v1h-2zM373 334h1v1h-1zM382 334h1v1h-1zM561 334h1v1h-1zM572 334h1v1h-1zM112 335h1v1h-1zM125 335h1v1h-1zM129 335h1v1h-1zM136 335h1v1h-1zM139 335h1v1h-1zM158 335h1v1h-1zM216 335h1v1h-1zM227 335h1v1h-1zM234 335h1v1h-1zM257 335h1v1h-1zM266 335h1v1h-1zM300 335h1v1h-1zM302 335h1v1h-1zM372 335h1v1h-1zM382 335h1v1h-1zM445 335h1v1h-1zM561 335h1v1h-1zM572 335h1v1h-1zM112 336h1v1h-1zM126 336h1v1h-1zM129 336h1v1h-1zM136 336h1v1h-1zM138 336h1v1h-1zM159 336h1v1h-1zM216 336h1v1h-1zM227 336h1v1h-1zM233 336h1v1h-1zM235 336h1v1h-1zM257 336h1v1h-1zM266 336h1v1h-1zM300 336h1v1h-1zM302 336h1v1h-1zM372 336h1v1h-1zM383 336h1v1h-1zM444 336h2v1h-2zM561 336h1v1h-1zM572 336h1v1h-1zM112 337h1v1h-1zM126 337h1v1h-1zM129 337h1v1h-1zM136 337h1v1h-1zM138 337h1v1h-1zM159 337h1v1h-1zM216 337h1v1h-1zM227 337h1v1h-1zM233 337h1v1h-1zM235 337h1v1h-1zM257 337h1v1h-1zM267 337h1v1h-1zM300 337h1v1h-1zM302 337h1v1h-1zM372 337h1v1h-1zM384 337h1v1h-1zM444 337h2v1h-2zM560 337h1v1h-1zM572 337h1v1h-1zM112 338h1v1h-1zM126 338h1v1h-1zM129 338h1v1h-1zM136 338h1v1h-1zM138 338h1v1h-1zM160 338h1v1h-1zM216 338h1v1h-1zM227 338h1v1h-1zM233 338h1v1h-1zM235 338h1v1h-1zM256 338h1v1h-1zM267 338h1v1h-1zM300 338h1v1h-1zM303 338h1v1h-1zM372 338h1v1h-1zM385 338h1v1h-1zM443 338h1v1h-1zM446 338h1v1h-1zM560 338h1v1h-1zM572 338h1v1h-1zM111 339h1v1h-1zM127 339h1v1h-1zM129 339h1v1h-1zM137 339h2v1h-2zM160 339h1v1h-1zM215 339h1v1h-1zM228 339h1v1h-1zM232 339h1v1h-1zM235 339h1v1h-1zM256 339h1v1h-1zM268 339h1v1h-1zM300 339h1v1h-1zM303 339h1v1h-1zM371 339h1v1h-1zM386 339h1v1h-1zM443 339h1v1h-1zM446 339h1v1h-1zM560 339h1v1h-1zM572 339h1v1h-1zM111 340h1v1h-1zM127 340h2v1h-2zM137 340h1v1h-1zM161 340h1v1h-1zM215 340h1v1h-1zM228 340h1v1h-1zM232 340h1v1h-1zM236 340h1v1h-1zM256 340h1v1h-1zM269 340h2v1h-2zM300 340h1v1h-1zM303 340h1v1h-1zM371 340h1v1h-1zM386 340h1v1h-1zM442 340h1v1h-1zM446 340h1v1h-1zM479 340h1v1h-1zM560 340h1v1h-1zM572 340h1v1h-1zM111 341h1v1h-1zM128 341h1v1h-1zM137 341h1v1h-1zM161 341h1v1h-1zM215 341h1v1h-1zM228 341h1v1h-1zM232 341h1v1h-1zM236 341h1v1h-1zM255 341h1v1h-1zM271 341h1v1h-1zM299 341h1v1h-1zM303 341h1v1h-1zM371 341h1v1h-1zM387 341h1v1h-1zM397 341h1v1h-1zM441 341h1v1h-1zM446 341h1v1h-1zM479 341h2v1h-2zM559 341h1v1h-1zM572 341h1v1h-1zM111 342h1v1h-1zM128 342h1v1h-1zM161 342h1v1h-1zM190 342h1v1h-1zM215 342h1v1h-1zM228 342h1v1h-1zM231 342h1v1h-1zM236 342h1v1h-1zM255 342h1v1h-1zM272 342h1v1h-1zM299 342h1v1h-1zM304 342h1v1h-1zM371 342h1v1h-1zM388 342h1v1h-1zM397 342h3v1h-3zM441 342h1v1h-1zM446 342h1v1h-1zM479 342h1v1h-1zM481 342h1v1h-1zM559 342h1v1h-1zM573 342h1v1h-1zM111 343h1v1h-1zM162 343h1v1h-1zM190 343h1v1h-1zM215 343h1v1h-1zM228 343h1v1h-1zM231 343h1v1h-1zM236 343h1v1h-1zM255 343h1v1h-1zM272 343h1v1h-1zM299 343h1v1h-1zM304 343h1v1h-1zM371 343h1v1h-1zM388 343h1v1h-1zM396 343h1v1h-1zM400 343h2v1h-2zM440 343h1v1h-1zM446 343h1v1h-1zM479 343h1v1h-1zM482 343h1v1h-1zM559 343h1v1h-1zM573 343h1v1h-1zM111 344h1v1h-1zM162 344h1v1h-1zM189 344h1v1h-1zM191 344h1v1h-1zM215 344h1v1h-1zM228 344h1v1h-1zM231 344h1v1h-1zM237 344h1v1h-1zM254 344h1v1h-1zM273 344h1v1h-1zM299 344h1v1h-1zM304 344h1v1h-1zM370 344h1v1h-1zM389 344h1v1h-1zM396 344h1v1h-1zM402 344h1v1h-1zM440 344h1v1h-1zM447 344h1v1h-1zM478 344h1v1h-1zM483 344h1v1h-1zM559 344h1v1h-1zM573 344h1v1h-1zM111 345h1v1h-1zM162 345h1v1h-1zM189 345h1v1h-1zM191 345h1v1h-1zM215 345h1v1h-1zM228 345h1v1h-1zM230 345h1v1h-1zM237 345h1v1h-1zM254 345h1v1h-1zM273 345h1v1h-1zM299 345h1v1h-1zM304 345h1v1h-1zM370 345h1v1h-1zM389 345h1v1h-1zM395 345h1v1h-1zM402 345h1v1h-1zM440 345h1v1h-1zM447 345h1v1h-1zM478 345h1v1h-1zM484 345h1v1h-1zM558 345h1v1h-1zM573 345h1v1h-1zM111 346h1v1h-1zM162 346h1v1h-1zM188 346h1v1h-1zM192 346h1v1h-1zM214 346h1v1h-1zM229 346h2v1h-2zM237 346h1v1h-1zM254 346h1v1h-1zM274 346h1v1h-1zM298 346h1v1h-1zM305 346h1v1h-1zM370 346h1v1h-1zM389 346h1v1h-1zM395 346h1v1h-1zM402 346h1v1h-1zM440 346h1v1h-1zM447 346h1v1h-1zM478 346h1v1h-1zM484 346h1v1h-1zM558 346h1v1h-1zM573 346h1v1h-1zM111 347h1v1h-1zM162 347h1v1h-1zM188 347h1v1h-1zM192 347h1v1h-1zM214 347h1v1h-1zM229 347h2v1h-2zM237 347h1v1h-1zM253 347h1v1h-1zM274 347h1v1h-1zM298 347h1v1h-1zM305 347h1v1h-1zM370 347h1v1h-1zM390 347h1v1h-1zM395 347h1v1h-1zM403 347h1v1h-1zM439 347h1v1h-1zM447 347h1v1h-1zM478 347h1v1h-1zM484 347h1v1h-1zM558 347h1v1h-1zM573 347h1v1h-1zM111 348h1v1h-1zM162 348h1v1h-1zM188 348h1v1h-1zM193 348h1v1h-1zM214 348h1v1h-1zM229 348h1v1h-1zM238 348h1v1h-1zM253 348h1v1h-1zM275 348h1v1h-1zM298 348h1v1h-1zM305 348h1v1h-1zM370 348h1v1h-1zM390 348h1v1h-1zM394 348h1v1h-1zM403 348h1v1h-1zM439 348h1v1h-1zM447 348h1v1h-1zM478 348h1v1h-1zM485 348h1v1h-1zM558 348h1v1h-1zM573 348h1v1h-1zM111 349h1v1h-1zM163 349h1v1h-1zM187 349h1v1h-1zM193 349h1v1h-1zM214 349h1v1h-1zM229 349h1v1h-1zM238 349h1v1h-1zM253 349h1v1h-1zM275 349h1v1h-1zM298 349h1v1h-1zM305 349h1v1h-1zM369 349h1v1h-1zM391 349h1v1h-1zM394 349h1v1h-1zM403 349h1v1h-1zM439 349h1v1h-1zM448 349h1v1h-1zM478 349h1v1h-1zM485 349h1v1h-1zM557 349h1v1h-1zM573 349h1v1h-1zM111 350h1v1h-1zM163 350h1v1h-1zM187 350h1v1h-1zM194 350h1v1h-1zM213 350h1v1h-1zM238 350h1v1h-1zM252 350h1v1h-1zM275 350h1v1h-1zM298 350h1v1h-1zM306 350h1v1h-1zM369 350h1v1h-1zM391 350h1v1h-1zM393 350h1v1h-1zM403 350h1v1h-1zM439 350h1v1h-1zM448 350h1v1h-1zM477 350h1v1h-1zM485 350h1v1h-1zM557 350h1v1h-1zM573 350h1v1h-1zM111 351h1v1h-1zM163 351h1v1h-1zM187 351h1v1h-1zM194 351h1v1h-1zM213 351h1v1h-1zM238 351h1v1h-1zM252 351h1v1h-1zM276 351h1v1h-1zM297 351h1v1h-1zM306 351h1v1h-1zM369 351h1v1h-1zM391 351h1v1h-1zM393 351h1v1h-1zM403 351h1v1h-1zM439 351h1v1h-1zM448 351h1v1h-1zM477 351h1v1h-1zM485 351h1v1h-1zM557 351h1v1h-1zM573 351h1v1h-1zM111 352h1v1h-1zM163 352h1v1h-1zM186 352h1v1h-1zM195 352h1v1h-1zM212 352h1v1h-1zM239 352h1v1h-1zM252 352h1v1h-1zM276 352h1v1h-1zM297 352h1v1h-1zM306 352h1v1h-1zM369 352h1v1h-1zM392 352h1v1h-1zM404 352h1v1h-1zM439 352h1v1h-1zM448 352h1v1h-1zM477 352h1v1h-1zM486 352h1v1h-1zM541 352h1v1h-1zM557 352h1v1h-1zM573 352h1v1h-1zM111 353h1v1h-1zM163 353h1v1h-1zM186 353h1v1h-1zM195 353h1v1h-1zM211 353h1v1h-1zM239 353h1v1h-1zM251 353h1v1h-1zM277 353h1v1h-1zM297 353h1v1h-1zM307 353h1v1h-1zM353 353h2v1h-2zM368 353h1v1h-1zM392 353h1v1h-1zM404 353h1v1h-1zM438 353h1v1h-1zM448 353h1v1h-1zM477 353h1v1h-1zM486 353h1v1h-1zM541 353h2v1h-2zM556 353h1v1h-1zM573 353h1v1h-1zM110 354h1v1h-1zM163 354h1v1h-1zM185 354h1v1h-1zM195 354h1v1h-1zM211 354h1v1h-1zM239 354h1v1h-1zM251 354h1v1h-1zM277 354h1v1h-1zM297 354h1v1h-1zM308 354h1v1h-1zM351 354h2v1h-2zM354 354h1v1h-1zM368 354h1v1h-1zM404 354h1v1h-1zM438 354h1v1h-1zM449 354h1v1h-1zM460 354h1v1h-1zM477 354h1v1h-1zM486 354h1v1h-1zM541 354h1v1h-1zM543 354h1v1h-1zM555 354h2v1h-2zM573 354h1v1h-1zM110 355h1v1h-1zM164 355h1v1h-1zM185 355h1v1h-1zM196 355h1v1h-1zM210 355h1v1h-1zM240 355h1v1h-1zM251 355h1v1h-1zM278 355h1v1h-1zM297 355h1v1h-1zM309 355h1v1h-1zM330 355h1v1h-1zM349 355h2v1h-2zM355 355h1v1h-1zM368 355h1v1h-1zM404 355h1v1h-1zM438 355h1v1h-1zM449 355h1v1h-1zM460 355h1v1h-1zM477 355h1v1h-1zM486 355h1v1h-1zM540 355h1v1h-1zM544 355h1v1h-1zM553 355h2v1h-2zM573 355h1v1h-1zM110 356h1v1h-1zM164 356h1v1h-1zM185 356h1v1h-1zM196 356h1v1h-1zM209 356h1v1h-1zM240 356h1v1h-1zM250 356h1v1h-1zM278 356h1v1h-1zM297 356h1v1h-1zM310 356h1v1h-1zM329 356h1v1h-1zM331 356h1v1h-1zM349 356h1v1h-1zM355 356h1v1h-1zM368 356h1v1h-1zM405 356h1v1h-1zM438 356h1v1h-1zM449 356h1v1h-1zM459 356h1v1h-1zM461 356h1v1h-1zM477 356h1v1h-1zM487 356h1v1h-1zM540 356h1v1h-1zM544 356h1v1h-1zM550 356h3v1h-3zM573 356h1v1h-1zM110 357h1v1h-1zM164 357h1v1h-1zM184 357h1v1h-1zM197 357h1v1h-1zM209 357h1v1h-1zM240 357h1v1h-1zM250 357h1v1h-1zM279 357h1v1h-1zM296 357h1v1h-1zM311 357h1v1h-1zM329 357h1v1h-1zM331 357h1v1h-1zM348 357h1v1h-1zM355 357h1v1h-1zM367 357h1v1h-1zM405 357h1v1h-1zM438 357h1v1h-1zM449 357h1v1h-1zM459 357h1v1h-1zM461 357h1v1h-1zM476 357h1v1h-1zM487 357h1v1h-1zM540 357h1v1h-1zM545 357h1v1h-1zM548 357h2v1h-2zM573 357h1v1h-1zM110 358h1v1h-1zM164 358h1v1h-1zM184 358h1v1h-1zM197 358h1v1h-1zM208 358h1v1h-1zM241 358h1v1h-1zM250 358h1v1h-1zM279 358h1v1h-1zM296 358h1v1h-1zM312 358h1v1h-1zM328 358h1v1h-1zM332 358h1v1h-1zM348 358h1v1h-1zM356 358h1v1h-1zM367 358h1v1h-1zM405 358h1v1h-1zM438 358h1v1h-1zM449 358h1v1h-1zM458 358h1v1h-1zM461 358h1v1h-1zM476 358h1v1h-1zM487 358h1v1h-1zM540 358h1v1h-1zM546 358h2v1h-2zM573 358h1v1h-1zM110 359h1v1h-1zM164 359h1v1h-1zM184 359h1v1h-1zM198 359h1v1h-1zM208 359h1v1h-1zM241 359h1v1h-1zM249 359h1v1h-1zM280 359h1v1h-1zM296 359h1v1h-1zM312 359h1v1h-1zM328 359h1v1h-1zM332 359h1v1h-1zM348 359h1v1h-1zM356 359h1v1h-1zM367 359h1v1h-1zM405 359h1v1h-1zM437 359h1v1h-1zM449 359h1v1h-1zM458 359h1v1h-1zM461 359h1v1h-1zM476 359h1v1h-1zM487 359h1v1h-1zM493 359h1v1h-1zM522 359h1v1h-1zM540 359h1v1h-1zM573 359h1v1h-1zM110 360h1v1h-1zM164 360h1v1h-1zM183 360h1v1h-1zM198 360h1v1h-1zM207 360h1v1h-1zM241 360h1v1h-1zM249 360h1v1h-1zM280 360h1v1h-1zM295 360h1v1h-1zM313 360h1v1h-1zM327 360h1v1h-1zM333 360h1v1h-1zM347 360h1v1h-1zM356 360h1v1h-1zM366 360h1v1h-1zM405 360h1v1h-1zM437 360h1v1h-1zM450 360h1v1h-1zM458 360h1v1h-1zM462 360h1v1h-1zM476 360h1v1h-1zM488 360h1v1h-1zM492 360h1v1h-1zM494 360h1v1h-1zM521 360h2v1h-2zM539 360h1v1h-1zM574 360h1v1h-1zM99 361h1v1h-1zM110 361h1v1h-1zM165 361h1v1h-1zM183 361h1v1h-1zM198 361h1v1h-1zM206 361h1v1h-1zM242 361h1v1h-1zM249 361h1v1h-1zM281 361h1v1h-1zM294 361h1v1h-1zM313 361h1v1h-1zM327 361h1v1h-1zM333 361h1v1h-1zM347 361h1v1h-1zM357 361h1v1h-1zM366 361h1v1h-1zM406 361h1v1h-1zM437 361h1v1h-1zM450 361h1v1h-1zM457 361h1v1h-1zM462 361h1v1h-1zM476 361h1v1h-1zM488 361h1v1h-1zM492 361h1v1h-1zM494 361h1v1h-1zM520 361h1v1h-1zM523 361h1v1h-1zM539 361h1v1h-1zM574 361h1v1h-1zM99 362h1v1h-1zM110 362h1v1h-1zM165 362h1v1h-1zM183 362h1v1h-1zM199 362h1v1h-1zM206 362h1v1h-1zM242 362h1v1h-1zM248 362h1v1h-1zM281 362h1v1h-1zM294 362h1v1h-1zM314 362h1v1h-1zM326 362h1v1h-1zM334 362h1v1h-1zM347 362h1v1h-1zM357 362h1v1h-1zM366 362h1v1h-1zM406 362h1v1h-1zM419 362h4v1h-4zM437 362h1v1h-1zM450 362h1v1h-1zM457 362h1v1h-1zM462 362h1v1h-1zM476 362h1v1h-1zM488 362h1v1h-1zM491 362h1v1h-1zM495 362h1v1h-1zM519 362h1v1h-1zM523 362h1v1h-1zM539 362h1v1h-1zM574 362h1v1h-1zM99 363h1v1h-1zM110 363h1v1h-1zM165 363h1v1h-1zM182 363h1v1h-1zM199 363h1v1h-1zM204 363h2v1h-2zM242 363h1v1h-1zM247 363h2v1h-2zM282 363h1v1h-1zM293 363h1v1h-1zM314 363h1v1h-1zM326 363h1v1h-1zM334 363h1v1h-1zM347 363h1v1h-1zM357 363h1v1h-1zM365 363h1v1h-1zM406 363h1v1h-1zM416 363h3v1h-3zM423 363h2v1h-2zM437 363h1v1h-1zM451 363h1v1h-1zM456 363h1v1h-1zM462 363h1v1h-1zM475 363h1v1h-1zM488 363h1v1h-1zM491 363h1v1h-1zM495 363h1v1h-1zM518 363h1v1h-1zM524 363h1v1h-1zM539 363h1v1h-1zM574 363h1v1h-1zM100 364h1v1h-1zM110 364h1v1h-1zM165 364h1v1h-1zM182 364h1v1h-1zM200 364h1v1h-1zM202 364h2v1h-2zM243 364h1v1h-1zM245 364h2v1h-2zM282 364h7v1h-7zM292 364h1v1h-1zM315 364h1v1h-1zM325 364h1v1h-1zM335 364h1v1h-1zM346 364h1v1h-1zM357 364h1v1h-1zM365 364h1v1h-1zM406 364h1v1h-1zM416 364h1v1h-1zM425 364h3v1h-3zM437 364h1v1h-1zM452 364h2v1h-2zM456 364h1v1h-1zM463 364h1v1h-1zM475 364h1v1h-1zM489 364h2v1h-2zM496 364h1v1h-1zM517 364h1v1h-1zM524 364h1v1h-1zM539 364h1v1h-1zM574 364h1v1h-1zM100 365h1v1h-1zM110 365h1v1h-1zM165 365h1v1h-1zM182 365h1v1h-1zM200 365h2v1h-2zM243 365h2v1h-2zM289 365h3v1h-3zM315 365h2v1h-2zM323 365h2v1h-2zM335 365h1v1h-1zM346 365h1v1h-1zM358 365h1v1h-1zM365 365h1v1h-1zM406 365h1v1h-1zM415 365h1v1h-1zM428 365h2v1h-2zM436 365h1v1h-1zM454 365h2v1h-2zM463 365h1v1h-1zM475 365h1v1h-1zM489 365h2v1h-2zM496 365h1v1h-1zM503 365h1v1h-1zM517 365h1v1h-1zM524 365h1v1h-1zM538 365h1v1h-1zM574 365h1v1h-1zM100 366h1v1h-1zM110 366h1v1h-1zM165 366h1v1h-1zM171 366h3v1h-3zM181 366h1v1h-1zM317 366h2v1h-2zM321 366h2v1h-2zM336 366h1v1h-1zM346 366h1v1h-1zM358 366h1v1h-1zM364 366h1v1h-1zM407 366h1v1h-1zM415 366h1v1h-1zM430 366h4v1h-4zM436 366h1v1h-1zM455 366h1v1h-1zM463 366h1v1h-1zM475 366h1v1h-1zM489 366h1v1h-1zM497 366h1v1h-1zM502 366h2v1h-2zM516 366h1v1h-1zM525 366h1v1h-1zM538 366h1v1h-1zM574 366h1v1h-1zM100 367h1v1h-1zM110 367h1v1h-1zM166 367h1v1h-1zM169 367h2v1h-2zM174 367h8v1h-8zM319 367h2v1h-2zM336 367h1v1h-1zM345 367h1v1h-1zM358 367h1v1h-1zM363 367h2v1h-2zM407 367h1v1h-1zM414 367h1v1h-1zM434 367h3v1h-3zM463 367h1v1h-1zM475 367h1v1h-1zM497 367h1v1h-1zM500 367h2v1h-2zM504 367h1v1h-1zM516 367h1v1h-1zM525 367h1v1h-1zM538 367h1v1h-1zM574 367h1v1h-1zM101 368h1v1h-1zM109 368h1v1h-1zM166 368h3v1h-3zM336 368h1v1h-1zM345 368h1v1h-1zM359 368h1v1h-1zM361 368h2v1h-2zM407 368h1v1h-1zM414 368h1v1h-1zM464 368h1v1h-1zM475 368h1v1h-1zM498 368h2v1h-2zM504 368h1v1h-1zM516 368h1v1h-1zM525 368h1v1h-1zM538 368h1v1h-1zM574 368h1v1h-1zM101 369h1v1h-1zM109 369h1v1h-1zM166 369h1v1h-1zM337 369h1v1h-1zM345 369h1v1h-1zM359 369h2v1h-2zM408 369h2v1h-2zM413 369h1v1h-1zM464 369h1v1h-1zM474 369h1v1h-1zM498 369h1v1h-1zM505 369h1v1h-1zM515 369h1v1h-1zM526 369h1v1h-1zM538 369h1v1h-1zM574 369h1v1h-1zM101 370h1v1h-1zM109 370h1v1h-1zM337 370h1v1h-1zM344 370h1v1h-1zM410 370h2v1h-2zM413 370h1v1h-1zM465 370h1v1h-1zM474 370h1v1h-1zM505 370h1v1h-1zM515 370h1v1h-1zM526 370h1v1h-1zM537 370h1v1h-1zM574 370h1v1h-1zM101 371h1v1h-1zM109 371h1v1h-1zM337 371h1v1h-1zM344 371h1v1h-1zM412 371h1v1h-1zM466 371h1v1h-1zM474 371h1v1h-1zM506 371h1v1h-1zM515 371h1v1h-1zM527 371h1v1h-1zM537 371h1v1h-1zM574 371h1v1h-1zM101 372h1v1h-1zM109 372h1v1h-1zM338 372h1v1h-1zM343 372h1v1h-1zM467 372h1v1h-1zM473 372h2v1h-2zM506 372h1v1h-1zM515 372h1v1h-1zM527 372h3v1h-3zM535 372h3v1h-3zM574 372h1v1h-1zM102 373h1v1h-1zM109 373h1v1h-1zM338 373h1v1h-1zM342 373h1v1h-1zM468 373h1v1h-1zM471 373h2v1h-2zM507 373h1v1h-1zM514 373h1v1h-1zM530 373h5v1h-5zM574 373h1v1h-1zM102 374h1v1h-1zM109 374h1v1h-1zM338 374h1v1h-1zM341 374h1v1h-1zM469 374h2v1h-2zM507 374h1v1h-1zM514 374h1v1h-1zM574 374h1v1h-1zM102 375h1v1h-1zM109 375h1v1h-1zM339 375h2v1h-2zM508 375h1v1h-1zM514 375h1v1h-1zM574 375h1v1h-1zM102 376h1v1h-1zM108 376h1v1h-1zM339 376h1v1h-1zM508 376h3v1h-3zM513 376h1v1h-1zM574 376h1v1h-1zM102 377h1v1h-1zM108 377h1v1h-1zM511 377h3v1h-3zM574 377h1v1h-1zM103 378h1v1h-1zM107 378h1v1h-1zM575 378h1v1h-1zM103 379h1v1h-1zM107 379h1v1h-1zM575 379h1v1h-1zM103 380h1v1h-1zM106 380h1v1h-1zM575 380h1v1h-1zM103 381h1v1h-1zM106 381h1v1h-1zM575 381h1v1h-1zM104 382h2v1h-2zM575 382h1v1h-1zM104 383h2v1h-2zM575 383h1v1h-1zM104 384h1v1h-1zM575 384h1v1h-1zM575 385h1v1h-1zM575 386h1v1h-1z" fill="#009e73" shape-rendering="crispEdges"/>
</svg>
</body></html>
